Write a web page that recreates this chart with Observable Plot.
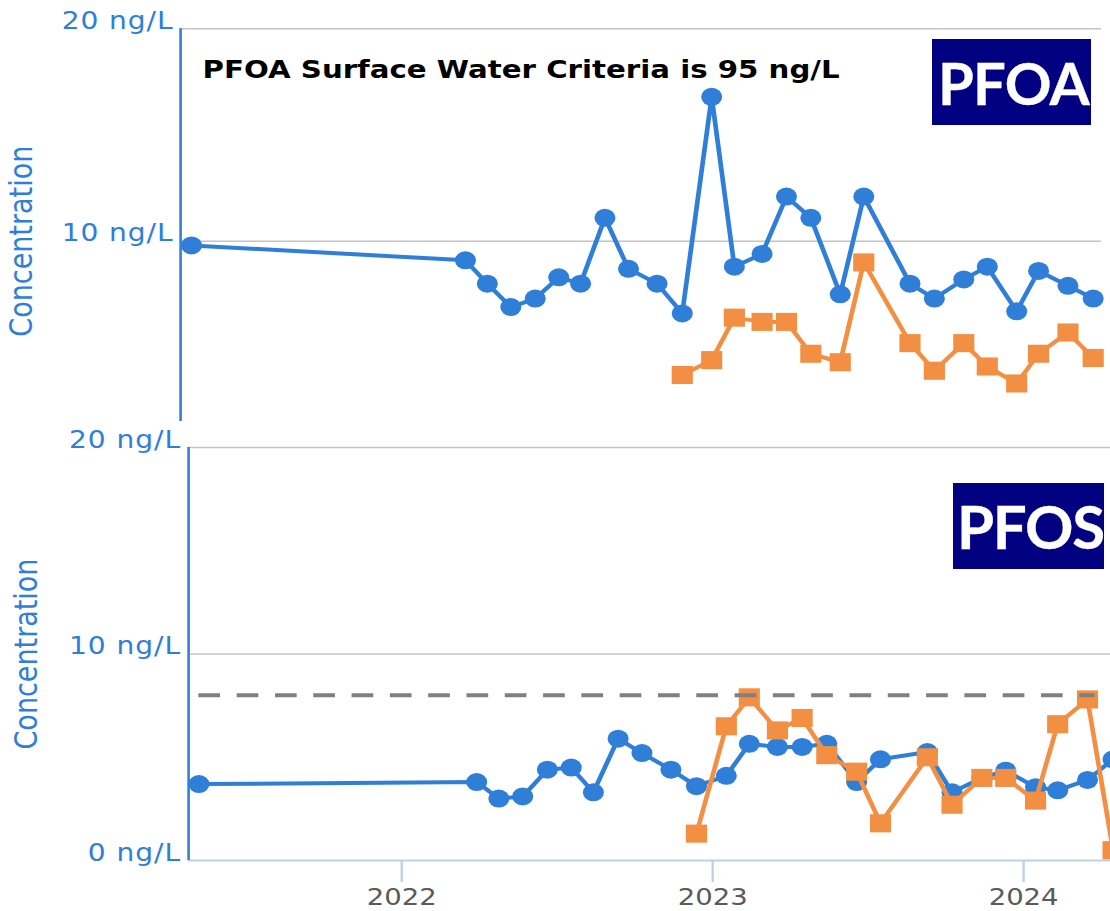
<!DOCTYPE html>
<html>
<head>
<meta charset="utf-8">
<script src="https://cdn.jsdelivr.net/npm/d3@7"></script>
<script src="https://cdn.jsdelivr.net/npm/@observablehq/plot@0.6"></script>
<style>
  html, body { margin: 0; padding: 0; background: #fff; overflow: hidden; }
  #wrap { position: relative; width: 1110px; height: 911px; overflow: hidden; background: #fff; }
  #wrap > svg { position: absolute; left: 0; }
  .badge { position: absolute; background: #000080; }
  .badge span { position: absolute; color: #fff; font-family: Lato, 'Open Sans', sans-serif;
                font-weight: 700; line-height: 1; white-space: nowrap; -webkit-text-stroke: 0.3px #fff; }
</style>
</head>
<body>
<div id="wrap"></div>
<script>
// ---------------- data ----------------
const sampleDates = [
  "2021-05-08","2022-03-30","2022-04-25","2022-05-23","2022-06-21","2022-07-19",
  "2022-08-14","2022-09-12","2022-10-10","2022-11-13","2022-12-13","2023-01-17",
  "2023-02-13","2023-03-18","2023-04-16","2023-05-15","2023-06-19","2023-07-17",
  "2023-09-10","2023-10-09","2023-11-13","2023-12-11","2024-01-15","2024-02-10",
  "2024-03-16","2024-04-15"
];
// PFOA (ng/L)
const pfoaBlue = [9.8, 9.1, 8.0, 6.9, 7.3, 8.3, 8.0, 11.1, 8.7, 8.0, 6.6, 16.8, 8.8,
                  9.4, 12.1, 11.1, 7.5, 12.1, 8.0, 7.3, 8.2, 8.8, 6.7, 8.6, 7.9, 7.3];
const pfoaOrange = [null, null, null, null, null, null, null, null, null, null,
                    3.7, 4.4, 6.4, 6.2, 6.2, 4.7, 4.3, 9.0, 5.2, 3.9, 5.2, 4.1, 3.3, 4.7, 5.7, 4.5];
// PFOS (ng/L)
const pfosBlue = [3.7, 3.8, 3.0, 3.1, 4.4, 4.5, 3.3, 5.9, 5.2, 4.4, 3.6, 4.1, 5.65,
                  5.5, 5.5, 5.65, 3.8, 4.9, 5.25, 3.3, 4.0, 4.35, 3.55, 3.4, 3.9, 4.9];
const pfosOrange = [null, null, null, null, null, null, null, null, null, null,
                    1.3, 6.5, 7.9, 6.3, 6.9, 5.1, 4.3, 1.8, 5.0, 2.7, 4.0, 4.0, 2.9, 6.6, 7.8, 0.5];
const pfosCriteria = 8;
const pfosCriteriaSpan = ["2021-05-08", "2024-03-25"];
const xDomain = ["2021-04-25", "2024-04-25"];
const xTickDates = ["2022-01-01", "2023-01-01", "2024-01-01"];
const yTicksTop = [10, 20];
const yTicksBottom = [0, 10, 20];
const titleText = "PFOA Surface Water Criteria is 95 ng/L";
const yLabel = "Concentration";
const badgeTop = "PFOA";
const badgeBottom = "PFOS";

// ---------------- style ----------------
const BLUE = "#2f7ed8";
const ORANGE = "#f28f43";
const S = 1.17;            // horizontal stretch of the reference image
const W = 1110 / S;        // internal width

const toDate = (s) => new Date(s + "T00:00:00Z");
const rowsOf = (vals) => sampleDates.map((d, i) => ({date: toDate(d), v: vals[i]}));

function stretch(svg, h) {
  svg.setAttribute("width", 1110);
  svg.setAttribute("height", h);
  svg.setAttribute("preserveAspectRatio", "none");
  svg.style.width = "1110px";
  svg.style.height = h + "px";
  svg.style.maxWidth = "none";
  svg.style.background = "transparent";
  svg.querySelectorAll("text").forEach(t => {
    if (/^\d+ ng\/L$/.test(t.textContent)) t.style.letterSpacing = "0.8px";
  });
  return svg;
}

const baseStyle = {fontFamily: "'DejaVu Sans', sans-serif", fontSize: "24px", background: "transparent"};

// ---------------- top panel (PFOA) ----------------
const H1 = 425;
const topPlot = Plot.plot({
  width: W, height: H1,
  marginLeft: 180 / S, marginRight: 9 / S, marginTop: 28.3, marginBottom: 4,
  x: {type: "utc", domain: xDomain.map(toDate), axis: null},
  y: {domain: [1.51, 20]},
  style: baseStyle,
  marks: [
    Plot.gridY(yTicksTop, {stroke: "#c4c4c4", strokeOpacity: 1, strokeWidth: 1.6}),
    Plot.ruleX([toDate(xDomain[0])], {stroke: BLUE, strokeWidth: 2.2}),
    Plot.axisY(yTicksTop, {tickSize: 0, tickPadding: 6, tickFormat: d => `${d} ng/L`,
      fill: BLUE, fontSize: 24, lineAnchor: "bottom", label: null}),
    Plot.text([yLabel], {text: d => d, frameAnchor: "left", textAnchor: "middle", y: () => 10, rotate: -90,
      dx: 18 - 180 / S, fill: BLUE, fontSize: 27}),
    Plot.line(rowsOf(pfoaBlue), {x: "date", y: "v", stroke: BLUE, strokeWidth: 4}),
    Plot.dot(rowsOf(pfoaBlue), {x: "date", y: "v", r: 9, fill: BLUE}),
    Plot.line(rowsOf(pfoaOrange), {x: "date", y: "v", stroke: ORANGE, strokeWidth: 4}),
    Plot.dot(rowsOf(pfoaOrange).filter(d => d.v != null), {x: "date", y: "v", r: 10.2, symbol: "square", fill: ORANGE}),
    Plot.text([titleText], {text: d => d, frameAnchor: "top-left", textAnchor: "start", lineAnchor: "bottom",
      dx: (202 - 180) / S, dy: 77 - 28.3, fontWeight: "bold", fontSize: 25, fill: "#000"})
  ]
});
stretch(topPlot, H1);
topPlot.style.top = "0px";

// ---------------- bottom panel (PFOS) ----------------
const T2 = 425, H2 = 486;
const bottomPlot = Plot.plot({
  width: W, height: H2,
  marginLeft: 188 / S, marginRight: 0, marginTop: 447 - T2, marginBottom: H2 - (860 - T2),
  x: {type: "utc", domain: xDomain.map(toDate), range: [187.3 / S, 1121 / S]},
  y: {domain: [0, 20]},
  style: baseStyle,
  marks: [
    Plot.gridY(yTicksBottom.filter(d => d > 0), {stroke: "#c4c4c4", strokeOpacity: 1, strokeWidth: 1.6}),
    Plot.axisX(xTickDates.map(toDate), {tickSize: 22, tickPadding: 6, stroke: "#c0d0e0", strokeWidth: 2,
      tickFormat: d3.utcFormat("%Y"), fill: "#5a5a5a", fontSize: 23.5, label: null}),
    Plot.ruleY([0], {stroke: "#c0d0e0", strokeWidth: 2.2}),
    Plot.ruleX([toDate(xDomain[0])], {stroke: BLUE, strokeWidth: 2.2, dx: 0.6}),
    Plot.axisY(yTicksBottom, {tickSize: 0, tickPadding: 6.5, tickFormat: d => `${d} ng/L`,
      fill: BLUE, fontSize: 24, lineAnchor: "bottom", label: null}),
    Plot.text([yLabel], {text: d => d, frameAnchor: "left", textAnchor: "middle", y: () => 10, rotate: -90,
      dx: 22.5 - 188 / S, fill: BLUE, fontSize: 27}),
    Plot.line(rowsOf(pfosBlue), {x: "date", y: "v", stroke: BLUE, strokeWidth: 4}),
    Plot.dot(rowsOf(pfosBlue), {x: "date", y: "v", r: 9, fill: BLUE}),
    Plot.line(rowsOf(pfosOrange), {x: "date", y: "v", stroke: ORANGE, strokeWidth: 4}),
    Plot.dot(rowsOf(pfosOrange).filter(d => d.v != null), {x: "date", y: "v", r: 10.2, symbol: "square", fill: ORANGE}),
    Plot.ruleY([pfosCriteria], {x1: toDate(pfosCriteriaSpan[0]), x2: toDate(pfosCriteriaSpan[1]),
      stroke: "#808080", strokeWidth: 4, strokeDasharray: `${21.7 / S},${16.6 / S}`})
  ]
});
stretch(bottomPlot, H2);
bottomPlot.style.top = T2 + "px";

const wrap = document.getElementById("wrap");
wrap.appendChild(topPlot);
wrap.appendChild(bottomPlot);

// ---------------- badges ----------------
function badge(label, left, topPx, w, h, tx, baseline, fs, ls) {
  const div = document.createElement("div");
  div.className = "badge";
  Object.assign(div.style, {left: left + "px", top: topPx + "px", width: w + "px", height: h + "px"});
  const span = document.createElement("span");
  span.textContent = label;
  // Lato: ascent 0.987em, descent 0.213em; with line-height 1 the baseline sits 0.887em below the box top
  Object.assign(span.style, {left: tx + "px", top: (baseline - 0.887 * fs) + "px",
    fontSize: fs + "px", letterSpacing: ls + "px"});
  div.appendChild(span);
  wrap.appendChild(div);
}
badge(badgeTop, 932, 39, 159, 86, 6, 66.7, 58, -0.8);
badge(badgeBottom, 953, 483, 151, 86, 4, 66, 60, -1.3);
</script>
</body>
</html>
